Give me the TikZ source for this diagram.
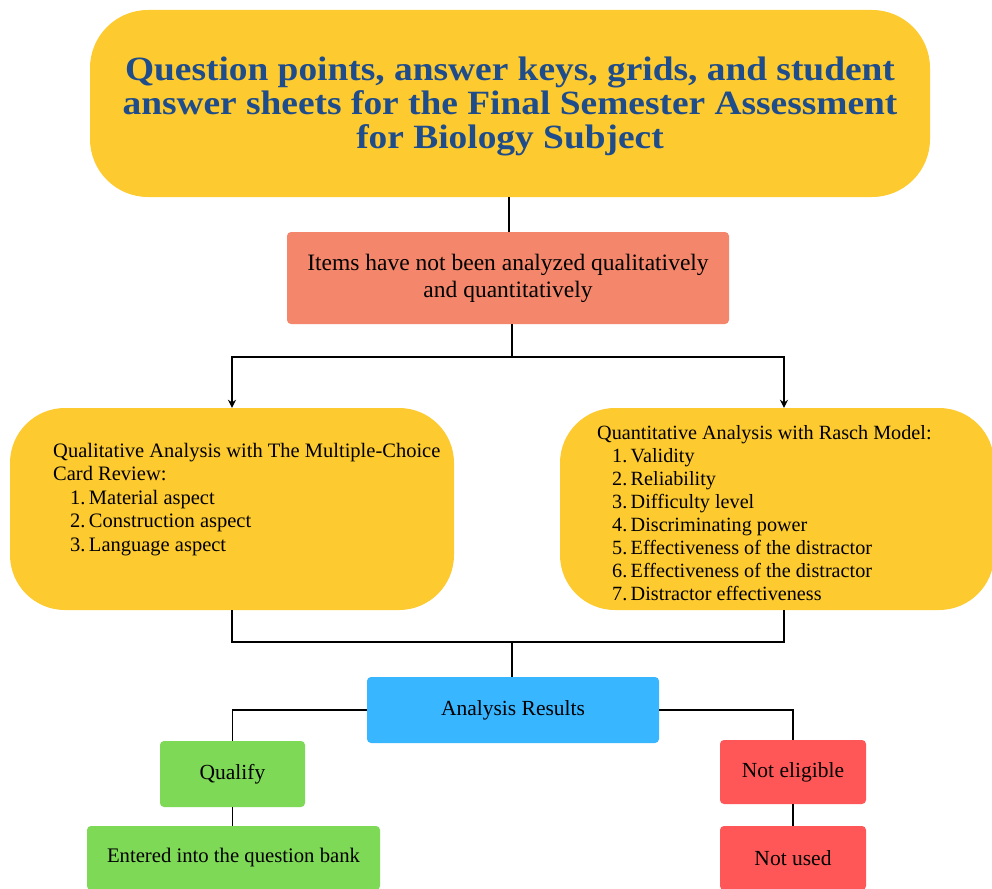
\documentclass[tikz,border=0pt]{standalone}
\usepackage{fontspec}
\setmainfont{Liberation Serif}
\newfontfamily\titlefont{Liberation Serif}[FakeStretch=1.1]
\usetikzlibrary{arrows.meta}
\definecolor{ylw}{HTML}{FDCA30}
\definecolor{ttl}{HTML}{1F4C8A}
\definecolor{salm}{HTML}{F4876B}
\definecolor{sky}{HTML}{38B6FF}
\definecolor{grn}{HTML}{7ED957}
\definecolor{rd}{HTML}{FF5757}
\tikzset{
  box/.style={inner sep=0pt, align=center, text=black},
  conn/.style={line width=1.7pt, black},
  arr/.style={conn, -{Stealth[length=8pt,width=8pt]}},
  small/.style={font=\fontsize{21.5}{25}\selectfont},
}
\begin{document}
\begin{tikzpicture}[x=1pt,y=-1pt]
\useasboundingbox (0,0) rectangle (992,888);
\fill[white] (0,0) rectangle (992,888);
% top
\node[box, fill=ylw, rounded corners=58pt, minimum width=840pt, minimum height=187pt, text=ttl,
  font=\titlefont\fontsize{34}{34}\selectfont\bfseries] (top) at (510,103.5)
  {\rule{0pt}{30pt}Question points, answer keys, grids, and student\\answer sheets for the Final Semester Assessment\\for Biology Subject};
% item box
\node[box, fill=salm, rounded corners=4pt, minimum width=442pt, minimum height=92pt,
  font=\fontsize{23.5}{27}\selectfont] (item) at (508,278)
  {Items have not been analyzed qualitatively\\and quantitatively};
% left analysis
\node[box, fill=ylw, rounded corners=55pt, minimum width=444pt, minimum height=202pt] (qual) at (232,509) {};
\node[box, anchor=north west, align=left, font=\fontsize{20.5}{23.5}\selectfont] (qualtxt) at (53,443)
  {Qualitative Analysis with The Multiple-Choice\\Card Review:\\
   \hspace*{17pt}1.\,Material aspect\\
   \hspace*{17pt}2.\,Construction aspect\\
   \hspace*{17pt}3.\,Language aspect};
% right analysis
\node[box, fill=ylw, rounded corners=55pt, minimum width=434pt, minimum height=202pt] (quant) at (777,509) {};
\node[box, anchor=north west, align=left, font=\fontsize{20.2}{23}\selectfont] (quanttxt) at (597,425)
  {Quantitative Analysis with Rasch Model:\\
   \hspace*{15pt}1.\,Validity\\
   \hspace*{15pt}2.\,Reliability\\
   \hspace*{15pt}3.\,Difficulty level\\
   \hspace*{15pt}4.\,Discriminating power\\
   \hspace*{15pt}5.\,Effectiveness of the distractor\\
   \hspace*{15pt}6.\,Effectiveness of the distractor\\
   \hspace*{15pt}7.\,Distractor effectiveness};
% results
\node[box, fill=sky, rounded corners=4pt, minimum width=292pt, minimum height=66pt, small] (res) at (513,710) {Analysis Results};
\node[box, fill=grn, rounded corners=4pt, minimum width=145pt, minimum height=66pt, small] (qualify) at (232.5,774) {Qualify};
\node[box, fill=grn, rounded corners=4pt, minimum width=293pt, minimum height=64pt,
  font=\fontsize{20.7}{24}\selectfont] (entered) at (233.5,858) {Entered into the question bank};
\node[box, fill=rd, rounded corners=4pt, minimum width=146pt, minimum height=64pt, small] (noteli) at (793,772) {Not eligible};
\node[box, fill=rd, rounded corners=4pt, minimum width=146pt, minimum height=64pt, small] (notused) at (793,858) {Not used};
% connectors
\coordinate (jA) at (512,357);
\coordinate (jB) at (512,642);
\draw[conn] (top.south -| 509,0) -- (item.north -| 509,0);
\draw[conn] (item.south -| jA) -- (jA);
\draw[arr] (jA) -| (qual.north);
\draw[arr] (jA) -| ([xshift=7pt]quant.north);
\draw[conn] (qual.south) |- (jB);
\draw[conn] ([xshift=7pt]quant.south) |- (jB);
\draw[conn] (jB) -- (res.north -| jB);
\draw[conn] (res.west) -| (qualify.north);
\draw[conn] (res.east) -| (noteli.north);
\draw[conn] (qualify.south) -- (qualify.south |- entered.north);
\draw[conn] (noteli.south) -- (notused.north);
\end{tikzpicture}
\end{document}
